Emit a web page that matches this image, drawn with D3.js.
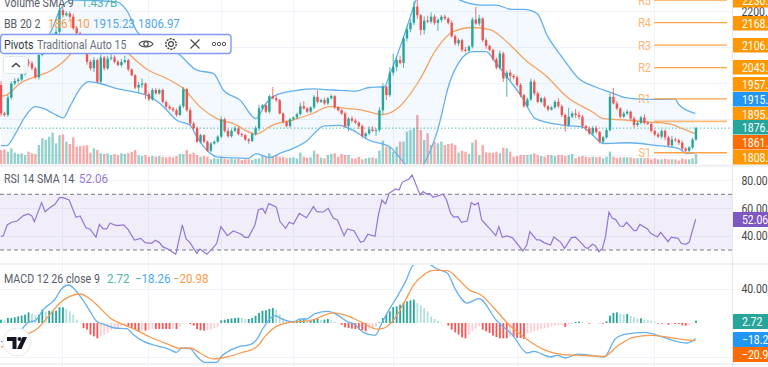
<!DOCTYPE html>
<html>
<head>
<meta charset="utf-8">
<script src="https://cdn.jsdelivr.net/npm/d3@7"></script>
<style>
html,body{margin:0;padding:0;background:#fff;overflow:hidden}
svg{display:block}
text{font-family:Roboto,"Noto Sans",sans-serif}
</style>
</head>
<body>
<svg id="c" width="768" height="367"></svg>
<script>
const firstOpen = 1996;
const closes = [
1917,1913,1961,2000,2007,2011,2026,2060,2056,2042,
2017,2079,2102,2116,2120,2134,2143,2203,2189,2194,
2185,2153,2139,2120,2106,2060,2042,2065,2005,2072,
2042,2069,2072,2060,2051,2060,2065,2039,2023,1989,
1996,2000,1971,1956,1982,1973,1982,1949,1936,1931,
1926,1913,1937,1984,1926,1889,1876,1839,1857,1839,
1814,1834,1839,1853,1901,1869,1854,1869,1876,1860,
1857,1845,1841,1860,1876,1931,1940,1922,1965,1959,
1954,1917,1894,1882,1901,1906,1915,1937,1931,1922,
1934,1963,1949,1954,1945,1959,1965,1934,1926,1917,
1882,1903,1897,1892,1882,1854,1862,1873,1869,1871,
1926,1991,1968,2030,2046,2065,2057,2125,2150,2168,
2213,2189,2148,2174,2171,2185,2168,2176,2185,2180,
2168,2131,2111,2120,2093,2091,2102,2177,2166,2180,
2120,2104,2093,2067,2044,2083,2014,2030,2021,2017,
1996,1968,1937,1956,2005,1973,1949,1959,1937,1928,
1934,1949,1937,1913,1885,1908,1917,1913,1908,1882,
1876,1862,1877,1866,1839,1851,1871,1963,1945,1931,
1908,1917,1922,1903,1885,1891,1906,1891,1888,1869,
1859,1853,1869,1851,1829,1845,1843,1836,1820,1814,
1823,1845,1876];
const wickUp = [
10,5,8,6,8,5,8,12,8,6,
4,22,6,5,8,6,10,15,10,6,
6,8,6,4,8,10,6,8,4,8,
4,8,12,6,5,8,12,4,3,3,
8,14,3,4,5,6,4,4,4,5,
4,5,5,6,4,8,6,5,4,3,
3,4,3,4,8,4,5,5,6,5,
4,3,4,5,6,10,3,5,4,25,
8,3,3,4,4,3,4,10,14,4,
3,5,18,4,7,3,5,3,3,3,
5,4,7,6,3,5,3,8,9,5,
8,10,4,15,37,10,12,5,8,10,
15,25,3,12,14,12,6,5,5,6,
4,6,4,6,4,8,4,6,35,10,
3,5,4,4,5,8,5,6,8,5,
4,5,4,5,8,6,5,4,5,3,
3,5,10,5,4,25,6,12,10,5,
3,5,5,6,3,4,6,10,25,6,
4,5,6,3,6,4,5,9,6,4,
3,6,4,4,5,10,5,4,6,3,
4,5,4];
const wickDown = [
8,5,6,6,5,5,4,4,8,6,
4,6,4,5,12,5,5,5,6,4,
6,5,5,6,5,8,6,10,4,5,
6,4,5,4,3,6,4,5,3,5,
14,8,14,5,4,5,4,4,6,5,
5,5,3,5,4,6,4,4,5,4,
3,4,3,3,4,5,4,4,3,4,
5,4,8,3,4,8,5,4,5,3,
5,3,5,3,4,3,4,4,3,4,
4,5,4,3,5,4,3,5,3,4,
5,14,5,4,8,4,8,5,3,14,
5,12,14,5,8,12,4,14,8,8,
6,10,14,12,4,5,6,22,6,5,
5,4,6,8,6,4,5,5,4,6,
5,8,4,5,5,5,10,51,12,5,
5,6,4,4,5,6,4,4,4,5,
3,4,5,6,18,5,4,8,7,6,
8,4,6,5,5,4,4,4,3,5,
5,4,5,5,8,4,4,4,3,5,
5,4,6,8,4,6,4,6,5,6,
5,4,4];
const volumes = [
21,22,18.5,23.5,17,15,16,13.5,18.5,16,
15,28.5,38.5,36,41,47,31,43.5,44.5,33.5,
30,40,26,27,27.5,28,17,23.5,21,16,
15,16,13.5,15,13.5,16,15,16,18.5,21,
13.5,12,13.5,11,12,11,12,11,10,11,
10,12,15,15,21,15,17,13.5,11,12,
11,7,8.5,8,11,8,7,8,7,8,
6,7,7,6,8,
8.5,12,10,16,12,13.5,11,11,8.5,9.5,
10,8.5,17,11,9.5,10,20,15,9.5,8.5,
13.5,15,16,11,15,13.5,13.5,8.5,8.5,11,
7,8.5,9.5,10,8.5,20,35,26,26,18.5,
26,33.5,33.5,48.5,51,53.5,73.5,51,36,46,
28.5,33.5,31,33.5,28.5,30,31,28.5,17,20,
18.5,15,32,36,13.5,28.5,17.5,17,17,18.5,
16,24.5,23.5,18.5,
11,12,13.5,13.5,13.5,14.5,16,13.5,12,11,
13.5,13.5,12,13.5,13.5,12,13.5,15,8.5,11,
12,11,10,11,10,11,8.5,11,18.5,11,
8.5,10,10,10,10,8.5,8.5,9,8.5,9,
7,8.5,7,7,8,7,7,7,5,8.5,
7,7,8.5,15];

const bbUpperBars = [0,9.4,14.2,17.1,20.5,33.6,36.5,39.9,52,56.9,61.7,64.6,69.5,74.1,77,79.9,86.7,90.6,96.4,103.2,107,111.4,112.9,116.7,119.6,120.6,125,130,133.4,140,143.9,148.5,151.9,155.8,158.7,163,167.9,172.7,177.6,181.4,187.3,196,197,201.8];
const bbUpper = [2090,2110,2139,2203,2231,2226,2203,2139,2079,2037,2028,1982,1954,1903,1945,1968,1982,1985,1982,1979,1989,1991,2023,2120,2203,2231,2275,2280,2231,2217,2217,2205,2205,2194,2134,2074,2014,1991,1974,1961,1956,1957,1942,1917];
const bbLowerBars = [0,1.6,4.5,7,9.9,12.3,15.2,18.1,20,23,25.4,28.8,33.6,38.5,42.3,46.2,49.1,51,54.9,56.9,59.8,62.7,67.5,71.9,74.1,78,81.4,84.8,88.6,94,98.3,102.2,107,112.9,117.2,120,123,126.9,130.3,133.2,137.1,141,143.9,148.5,151.4,155.3,163,168.9,171.8,175.1,182.4,190.2,197,199.4,201.8];
const bbLower = [1828,1828,1866,1908,1936,1931,1917,1905,1936,1986,2005,2000,1986,1977,1968,1945,1917,1899,1885,1853,1816,1797,1794,1793,1806,1795,1808,1820,1839,1883,1884,1871,1843,1825,1779,1745,1779,1871,2000,2060,2088,2088,2056,2000,1963,1903,1885,1880,1859,1834,1836,1829,1820,1806,1808];
const bbMiddleBars = [0,1.6,5.5,9.4,14.2,18.1,20,24,28.8,33.6,37.5,42.3,48.1,53,57.8,62.7,67.5,74.1,78.9,84.8,90.6,95.4,100.3,104.1,110.9,115.8,121.6,126.4,131.3,137.1,141.9,148.5,152.4,158.2,165,171.8,175.1,181.4,187.3,194,197.9,201.8];
const bbMiddle = [1965,1968,2000,2017,2034,2060,2079,2129,2134,2116,2079,2040,2014,1986,1936,1903,1889,1860,1885,1899,1917,1936,1931,1928,1914,1936,2009,2093,2143,2155,2150,2102,2065,2023,1959,1922,1903,1899,1894,1889,1876,1861.1];

const rsiBars = [0,0.7,1.8,3.1,4.7,6.5,7.9,8.9,9.7,11.8,12.8,14.2,15.7,17,18.1,19.8,21.8,23,24.7,25.9,27.6,28.6,29.7,30.7,31.7,33.6,35.7,37,38.8,40.6,41.9,43.8,44.8,46,47,48.6,50.8,52.7,53.8,54.9,56.9,57.8,59.8,61.7,62.7,63.9,65.8,67.5,69.7,70.9,71.9,73.8,74.8,76,76.8,77.8,80,81.1,82.7,83.8,85,86.7,88.8,90.8,91.8,93.7,95.1,96.6,97.8,99.7,100.7,102.6,104.5,105.5,106.6,108.7,109.7,110.7,111.3,111.8,112.8,114.7,115.7,116.6,118.6,119.5,121.8,122.7,123.7,124.7,125.6,128.5,129.5,130.7,131.6,132.8,133.8,135.5,136.7,137.7,138.7,139.7,141.8,143.8,144.7,145.7,147,148.6,151.7,152.8,153.7,155.7,156.6,157.8,159.7,160.7,162.7,163.8,165.8,167,168.5,169.9,170.6,171.9,172.8,173.8,174.8,175.7,176.7,177.7,178.6,179.9,180.9,181.8,184,184.7,185.7,187.9,188.8,190.8,191.7,193.9,194.8,196.8,197.7,199,200,201.9];
const rsiValues = [39.6,40.3,48,49.9,50.8,54.7,55.9,54.7,50.4,64,57.5,60.4,62.8,67.6,67.6,65.9,53.5,54.4,46,44.9,39.3,48.4,45.1,45.1,49.2,47.5,48,44.4,37.2,38.4,35.3,34.8,37,35.5,32.4,30.5,26.9,48,37.9,35.5,27.6,30.7,26.9,31.7,34.8,46.8,40.3,43.7,41.5,39.1,39.1,48,58.7,59.9,56.3,63.3,60.9,50.4,45.6,49.9,48.7,56.3,53.2,61.1,57.5,57.3,59.9,52.8,51.6,40.3,45.1,43.9,35.5,36.5,41.3,39.8,55.2,65.9,64.3,63.1,70.7,73.8,73.1,78.6,81,83.9,69.5,71.9,70.2,70.5,67.8,70,65.9,56.3,53.7,54,49.9,50.8,64,62.3,64,51.6,46,40.3,46.8,39.1,40.1,38.9,29.3,33.6,43.2,37.2,37.2,35.3,33.6,39.3,35.5,31.2,38.9,39.3,35.5,31.7,31.2,34.1,32.9,28.8,31.2,39.6,57.1,52.8,52,47.2,47,49.9,43.9,44.1,48.4,45.1,42,39.3,42.7,36,39.3,38.4,34.8,34.1,35.5,52.06];

const macdBars = [0,2.6,6,7.9,9.9,12.3,15.7,17.6,19.6,21.5,23.4,25.9,27.8,30.2,33.1,36.5,38.5,41.4,45.2,49.1,51,52.5,55,56.9,59.3,62.7,64.1,67,69.5,72.4,74.3,76.2,79.6,82.1,85,86.9,88.8,91.3,95.1,97.6,100.5,102.9,105.3,108.7,110.7,111.3,112.8,115.2,117.6,120,123.9,126.8,129.7,132.1,135.5,138.9,144.2,148.6,153,154.9,159.7,161.7,164.1,167.5,171.4,175.3,178.6,182,186.9,191.7,194.6,199.5,201.9];
const macdLine = [-21.6,-23.5,-7.8,0.8,2.7,15.7,28.2,40,44.7,39.2,29.4,13.7,2,-2,-5.9,-6.7,-13.7,-21.6,-26.7,-31.4,-34.5,-29.4,-30.2,-39.2,-46.3,-46.3,-39.2,-31.4,-27.4,-25.5,-19.6,-5.9,8.6,3.9,1.2,4.7,4.7,11,13.7,9.8,2,-2,-11,-14.5,0,4.7,15.7,31.4,49,68.6,69.8,63.5,58.8,39.2,23.5,28.6,2,-13.7,-35.3,-33.3,-40,-38,-41.2,-36.5,-38,-40,-18.4,-12.9,-11,-15.7,-19.6,-23.5,-18.26];
const signalBars = [0,2.6,7.5,10.4,14.2,17.1,20,23,25.9,28.8,31.7,35.6,39.4,43.3,48.1,52,55,57.8,61.7,65.6,69.5,74.3,77.2,81.1,85,89.8,96.6,100.5,105.3,109.2,111.3,114.2,117.1,120,122.9,125.8,129.7,133.1,136,139.4,143.3,148.1,153,157.8,163.6,168.5,175.3,179.1,184,188.8,193.7,198.5,201.9];
const signalLine = [-28.2,-26.7,-13.7,-7.1,9.8,23.5,31.4,34.1,28.2,17.6,5.9,-2,-8.6,-16.5,-24.3,-29.8,-29.4,-35.3,-42.3,-40,-35.3,-28.2,-13.7,-2,1.2,2.7,11.8,8.6,0,-7.1,-5.9,3.9,23.5,45.1,56.8,61.9,61.5,51,39.2,33.3,17.6,-3.9,-19.6,-31.4,-37.2,-38,-39.2,-27.4,-16.5,-14.5,-16.5,-19.6,-20.98];
const macdHist = [
3.9,3.1,5.9,5.9,6.7,7.8,8.6,9.8,12.5,11,9,9.8,15.7,13.7,14.5,14.5,14.5,18.4,18.4,16.5,13.7,9.8,3.9,0,-5.9,-7.8,-13.7,-15.7,-18,-15.7,-13.7,-11.8,-8.6,-7.1,-5.9,-3.9,-3.1,-3.9,-5.9,-7.8,-9.8,-9,-9,-7.8,-7.1,-7.1,-7.1,-7.1,-7.1,-7.1,-6.7,-7.1,-3.9,-0.8,0,-1.2,-3.1,-7.1,-8.6,-9,-8.6,-7.8,-5.9,-3.9,3.1,3.9,4.7,5.5,5.9,6.3,5.9,4.7,4.7,5.9,8.6,11.8,14.5,14.9,16.5,17.6,15.7,9.8,5.9,2.7,1.2,2.4,3.1,3.9,4.7,3.9,3.9,4.7,4.7,3.9,3.9,4.7,3.1,1.6,0,-2,-5.1,-5.9,-6.7,-7.1,-7.8,-8.6,-9.8,-6.7,-5.9,-3.9,0.8,5.9,
9.8,13.7,18.8,19.6,21.6,24.3,25.5,26.7,27.4,23.5,20.8,17.6,13.7,7.8,4.7,2.7,0.8,0,-3.1,-7.8,-11,-13.7,-16.9,-18,-13.7,-9.8,-6.7,-3.9,-7.8,-9.8,-11.8,-14.9,-16.5,-18,-18,-18,-15.7,-16.5,-17.6,-17.6,-18.8,-12.5,-11,-9.8,-8.6,-7.1,-6.3,-5.5,-3.9,-3.1,-2.7,-2.4,-4.7,-2,-1.2,1.2,1.6,0.8,0,-0.8,0,0,-0.4,-0.8,2,8.6,11.8,12.5,11,10.6,10.6,8.6,7.1,5.5,5.5,3.9,3.1,2.7,1.2,-0.8,-0.8,-0.4,-2,-0.8,-1.2,-1.2,-2.7,-3.1,-2.7,-0.8,2.72];

const gridBars = [18,43,64,85,114,150,190];
const priceTicks = [2200,2100,2000,1900,1800];
const priceLabelTicks = [2200];
const rsiTicks = [80,60,40];
const macdTicks = [40];
const rsiBandValues = [70,30];
const pivotNames = ["R5","R4","R3","R2","R1","P","S1"];
const pivotLevels = [2230.5,2168.3,2106.1,2043.9,1957.2,1895.2,1808.5];
const lastPrice = 1876.5;

// right-hand value tags: value, colour, top of the tag (tags are stacked, not at price)
const tagValues = ["2230.5","2168.3","2106.1","2043.9","1957.2","1915.2","1895.2","1876.5","1861.1","1808.5"];
const tagColors = ["#ff9800","#ff9800","#ff9800","#ff9800","#ff9800","#2196f3","#ff9800","#26a69a","#ff6d00","#ff9800"];
const tagTops = [-7,16,38,60,77,92,107,120,135,150];
const lowerTagValues = ["2.72","\u221218.26","\u221220.98"];
const lowerTagColors = ["#26a69a","#2196f3","#ff6d00"];
const lowerTagTops = [314,332,347];

const W = 768, H = 367, axisX = 732.5;
const svg = d3.select("#c");
const x = d3.scaleLinear().domain([0,202]).range([1,696]);
const yP = d3.scaleLinear().domain([1808.5,2168.3]).range([152.7,22.7]);
const yV = d3.scaleLinear().domain([0,100]).range([164,97.3]);
const yR = d3.scaleLinear().domain([30,70]).range([250,194.3]);
const yM = d3.scaleLinear().domain([0,40]).range([323,289]);

const defs = svg.append("defs");
[["cr",0,167,axisX,96],["cc",0,265,axisX,98],["cp",0,0,axisX,164.5]].forEach(([id,a,b,w,h])=>{
  defs.append("clipPath").attr("id",id).append("rect").attr("x",a).attr("y",b).attr("width",w).attr("height",h);
});

// pane grids
const gridCol = "#f0f3fa";
const grid = svg.append("g").attr("stroke",gridCol).attr("stroke-width",1).attr("shape-rendering","crispEdges");
gridBars.forEach(b=>grid.append("line").attr("x1",x(b)).attr("x2",x(b)).attr("y1",0).attr("y2",H));
priceTicks.forEach(t=>grid.append("line").attr("x1",0).attr("x2",axisX).attr("y1",yP(t)).attr("y2",yP(t)));
rsiTicks.forEach(t=>grid.append("line").attr("x1",0).attr("x2",axisX).attr("y1",yR(t)).attr("y2",yR(t)));
[40,-40].forEach(t=>grid.append("line").attr("x1",0).attr("x2",axisX).attr("y1",yM(t)).attr("y2",yM(t)));

// main pane
const main = svg.append("g").attr("clip-path","url(#cp)");
const opens = [firstOpen].concat(closes.slice(0,-1));
const isUp = i => closes[i] >= opens[i];

main.selectAll("rect.vol").data(volumes).join("rect").attr("class","vol")
  .attr("x",(d,i)=>x(i)-1.2).attr("width",2.4)
  .attr("y",d=>yV(d)).attr("height",d=>yV(0)-yV(d))
  .attr("fill",(d,i)=>isUp(i)?"#26a69a":"#ef5350").attr("opacity",0.5);

const pairs = (bars,vals) => bars.map((b,i)=>[b,vals[i]]);
const lineP = d3.line().x(d=>x(d[0])).y(d=>yP(d[1])).curve(d3.curveMonotoneX);
const up = pairs(bbUpperBars,bbUpper), lo = pairs(bbLowerBars,bbLower), mid = pairs(bbMiddleBars,bbMiddle);
main.append("path").attr("d",d3.line().x(d=>x(d[0])).y(d=>yP(d[1]))(up.concat(lo.slice().reverse())))
  .attr("fill","#2196f3").attr("fill-opacity",0.055);

main.append("line").attr("x1",0).attr("x2",axisX).attr("y1",yP(lastPrice)).attr("y2",yP(lastPrice))
  .attr("stroke","#26a69a").attr("stroke-dasharray","1.5 2").attr("opacity",0.75);

main.append("path").attr("d",lineP(up)).attr("fill","none").attr("stroke","#64b0f0").attr("stroke-width",1.3);
main.append("path").attr("d",lineP(lo)).attr("fill","none").attr("stroke","#64b0f0").attr("stroke-width",1.3);
main.append("path").attr("d",lineP(mid)).attr("fill","none").attr("stroke","#f9a25f").attr("stroke-width",1.3);

main.selectAll("line.w").data(closes).join("line").attr("class","w")
  .attr("x1",(d,i)=>x(i)).attr("x2",(d,i)=>x(i))
  .attr("y1",(d,i)=>yP(Math.max(d,opens[i])+wickUp[i]))
  .attr("y2",(d,i)=>yP(Math.min(d,opens[i])-wickDown[i]))
  .attr("stroke",(d,i)=>isUp(i)?"#26a69a":"#ef5350").attr("stroke-width",1).attr("opacity",0.8);
main.selectAll("rect.b").data(closes).join("rect").attr("class","b")
  .attr("x",(d,i)=>x(i)-1.2).attr("width",2.4)
  .attr("y",(d,i)=>yP(Math.max(d,opens[i])))
  .attr("height",(d,i)=>Math.max(1,Math.abs(yP(d)-yP(opens[i]))))
  .attr("fill",(d,i)=>isUp(i)?"#26a69a":"#ef5350");

// pivots
const pivotX0 = 654, pivotX1 = 727;
const piv = svg.append("g");
pivotLevels.forEach((p,i)=>{
  piv.append("line").attr("x1",pivotX0).attr("x2",pivotX1).attr("y1",yP(p)).attr("y2",yP(p))
    .attr("stroke","#ffa040").attr("stroke-width",pivotNames[i]==="P"||pivotNames[i]==="S1"?1.6:1.2).attr("opacity",pivotNames[i]==="P"?0.7:0.95);
  if(pivotNames[i]!=="P") piv.append("text").attr("class","sq").attr("x",651).attr("y",yP(p)+4.5).attr("text-anchor","end")
    .attr("font-size",12.5).attr("fill","#ffb570").text(pivotNames[i]);
});

// RSI pane
const rsiG = svg.append("g");
rsiG.append("rect").attr("x",0).attr("width",axisX).attr("y",yR(70)).attr("height",yR(30)-yR(70)).attr("fill","#7e57c2").attr("opacity",0.1);
rsiBandValues.forEach(v=>rsiG.append("line").attr("x1",0).attr("x2",axisX).attr("y1",yR(v)).attr("y2",yR(v))
  .attr("stroke","#787b86").attr("stroke-dasharray","4 3").attr("stroke-width",1));
rsiG.append("path").attr("clip-path","url(#cr)")
  .attr("d",d3.line().x(d=>x(d[0])).y(d=>yR(d[1]))(pairs(rsiBars,rsiValues)))
  .attr("fill","none").attr("stroke","#9575d8").attr("stroke-width",1.2);

// MACD pane
const macdG = svg.append("g").attr("clip-path","url(#cc)");
macdG.selectAll("rect").data(macdHist).join("rect")
  .attr("x",(d,i)=>x(i)-0.9).attr("width",1.8)
  .attr("y",d=>yM(Math.max(d,0))).attr("height",d=>Math.abs(yM(d)-yM(0)))
  .attr("fill",(d,i)=>{
    const p = i? macdHist[i-1]:d;
    if(d>=0) return d>=p?"#26a69a":"#b2dfdb";
    return d<=p?"#ff5252":"#ffcdd2";
  });
const lineM = d3.line().x(d=>x(d[0])).y(d=>yM(d[1])).curve(d3.curveMonotoneX);
macdG.append("path").attr("d",lineM(pairs(macdBars,macdLine))).attr("fill","none").attr("stroke","#64b0f0").attr("stroke-width",1.3);
macdG.append("path").attr("d",lineM(pairs(signalBars,signalLine))).attr("fill","none").attr("stroke","#f99a50").attr("stroke-width",1.3);

// pane separators and axis border
const sep = svg.append("g").attr("fill","#f0f1f4");
[[164.5,2.5],[263,2],[363,2]].forEach(([a,h])=>sep.append("rect").attr("x",0).attr("y",a).attr("width",W).attr("height",h));
svg.append("line").attr("x1",axisX).attr("x2",axisX).attr("y1",0).attr("y2",H).attr("stroke","#e6e8ee");

// axes
const axFmt = d3.format(".2f");
const mkAxis = (sc,ticks,fmt)=>{
  const g = svg.append("g").attr("transform",`translate(${axisX},0)`)
    .call(d3.axisRight(sc).tickValues(ticks).tickSize(0).tickPadding(9).tickFormat(fmt));
  g.select(".domain").remove();
  g.selectAll("text").attr("class","sq").attr("font-size",12).attr("fill","#444").attr("font-family","Roboto,sans-serif");
};
mkAxis(yP,priceLabelTicks,d3.format(".1f"));
mkAxis(yR,rsiTicks,axFmt);
mkAxis(yM,macdTicks,axFmt);

// value tags
const tag = (label,col,top,h)=>{
  svg.append("rect").attr("x",733).attr("y",top).attr("width",35).attr("height",h).attr("fill",col);
  svg.append("text").attr("class","sq").attr("x",742).attr("y",top+h/2+4.3).attr("font-size",12).attr("fill","#fff").text(label);
};
tagValues.forEach((v,i)=>tag(v,tagColors[i],tagTops[i],14.5));
lowerTagValues.forEach((v,i)=>tag(v,lowerTagColors[i],lowerTagTops[i],15));
tag("52.06","#7e57c2",212,15);

// legends
const leg = svg.append("g").attr("font-size",12.5);
const legText = (t,xx,yy,col,cls)=>leg.append("text").attr("class",cls).attr("x",xx).attr("y",yy).attr("fill",col).text(t);
legText("Volume SMA 9",4,7,"#555b68","nm");
legText("1.437B",81,7,"#4db6a8","vl");
legText("BB 20 2",4,28,"#555b68","nm");
legText("1861.10",48,28,"#ff9a45","vl");
legText("1915.23",93,28,"#4da8ee","vl");
legText("1806.97",138,28,"#4da8ee","vl");
legText("RSI 14 SMA 14",4,183,"#555b68","nm");
legText("52.06",79,183,"#9575d8","vl");
legText("MACD 12 26 close 9",4,283,"#555b68","nm");
legText("2.72",107,283,"#4db6a8","vl");
legText("\u221218.26",135,283,"#4da8ee","vl");
legText("\u221220.98",173,283,"#ff9a45","vl");

// Pivots legend box
const box = svg.append("g");
box.append("rect").attr("x",0.5).attr("y",34.5).attr("width",230.5).attr("height",19).attr("rx",3)
  .attr("fill","#fff").attr("stroke","#7f9bf0").attr("stroke-width",1.4);
box.append("text").attr("class","nm").attr("x",4).attr("y",48.5).attr("font-size",12.5).attr("fill","#333843").text("Pivots");
box.append("text").attr("class","nm").attr("x",37).attr("y",48.5).attr("font-size",12.5).attr("fill","#6a6f7c").text("Traditional Auto 15");
const ic = box.append("g").attr("fill","none").attr("stroke","#444").attr("stroke-width",1.1);
ic.append("path").attr("d","M139 44c3-4 11-4 14 0c-3 4-11 4-14 0z");
ic.append("circle").attr("cx",146).attr("cy",44).attr("r",2.2);
ic.append("circle").attr("cx",171).attr("cy",44).attr("r",2.4);
ic.append("circle").attr("cx",171).attr("cy",44).attr("r",5.2).attr("stroke-dasharray","2.2 1").attr("stroke-width",1.4);
ic.append("path").attr("d","M190.5 39.5l9 9M199.5 39.5l-9 9");
[214,219,224].forEach(cx=>box.append("circle").attr("cx",cx).attr("cy",44).attr("r",1.7).attr("fill","none").attr("stroke","#555").attr("stroke-width",1));

// collapse button
box.append("rect").attr("x",3.5).attr("y",56.5).attr("width",24).attr("height",17).attr("rx",3).attr("fill","#fff").attr("fill-opacity",0.9).attr("stroke","#e4e6eb");
box.append("path").attr("d","M12 67l4-3.5l4 3.5").attr("fill","none").attr("stroke","#444").attr("stroke-width",1.6);

// logo
const logo = svg.append("g");
logo.append("circle").attr("cx",17).attr("cy",342).attr("r",14).attr("fill","#fff").attr("stroke","#e8e9ed");
logo.append("path").attr("d","M7 337h9.5v12h-4v-8h-5.5zM27 337l-5.5 12h-4.5l5.5-12z").attr("fill","#131722");
logo.append("circle").attr("cx",19.5).attr("cy",339).attr("r",2).attr("fill","#131722");

// the reference is horizontally squeezed: narrow the text run widths to match
const squeeze = {nm:0.85, vl:0.92, sq:0.87};
svg.selectAll("text").each(function(){
  const k = squeeze[this.getAttribute("class")];
  if(k) this.setAttribute("textLength", this.getComputedTextLength()*k), this.setAttribute("lengthAdjust","spacingAndGlyphs");
});
</script>
</body>
</html>
